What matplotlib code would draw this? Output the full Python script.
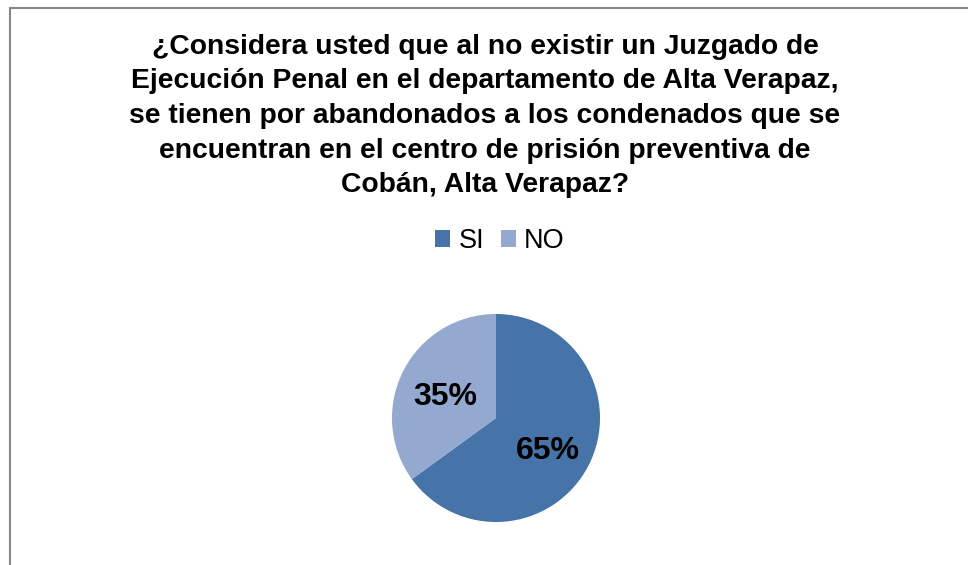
import matplotlib.pyplot as plt
from matplotlib.patches import Rectangle, Patch

W, H = 968, 565

title = ('¿Considera usted que al no existir un Juzgado de\n'
         'Ejecución Penal en el departamento de Alta Verapaz,\n'
         'se tienen por abandonados a los condenados que se\n'
         'encuentran en el centro de prisión preventiva de\n'
         'Cobán, Alta Verapaz?')
categories = ['SI', 'NO']
values = [65, 35]
slice_colors = ['#4673A8', '#94A9CF']

plt.rcParams['font.family'] = ['Liberation Sans', 'DejaVu Sans']

fig = plt.figure(figsize=(W / 100, H / 100), dpi=100)
fig.patch.set_facecolor('white')

# chart frame, cut off on the right and bottom
fig.patches.append(Rectangle((10 / W, -0.1), 1.2, 1 - 8 / H + 0.1,
                             transform=fig.transFigure, fill=False,
                             edgecolor='#878787', linewidth=1.5))

fig.text(485 / W, 1 - 116 / H, title, ha='center', va='center',
         fontsize=20.3, fontweight='bold', linespacing=1.43)

ax = fig.add_axes([0, 0, 1, 1])
wedges, _, autotexts = ax.pie(values, colors=slice_colors, startangle=90,
                              counterclock=False, radius=104,
                              center=(496, H - 418),
                              autopct='%1.0f%%', pctdistance=0.58,
                              textprops=dict(fontsize=23, fontweight='bold',
                                             color='black'))
# nudge the percentages a little
for t, (dx, dy) in zip(autotexts, [(-2, -6), (3, -6)]):
    x, y = t.get_position()
    t.set_position((x + dx, y + dy))

ax.set_xlim(0, W)
ax.set_ylim(0, H)
ax.set_aspect('equal')
ax.axis('off')

handles = [Patch(facecolor=c, label=l) for c, l in zip(slice_colors, categories)]
fig.legend(handles=handles, loc='center', bbox_to_anchor=(500 / W, 1 - 241 / H),
           ncol=2, frameon=False, fontsize=19.5, handlelength=0.55,
           handleheight=0.55, handletextpad=0.3, columnspacing=0.62)

fig.savefig('out.png', dpi=100)
